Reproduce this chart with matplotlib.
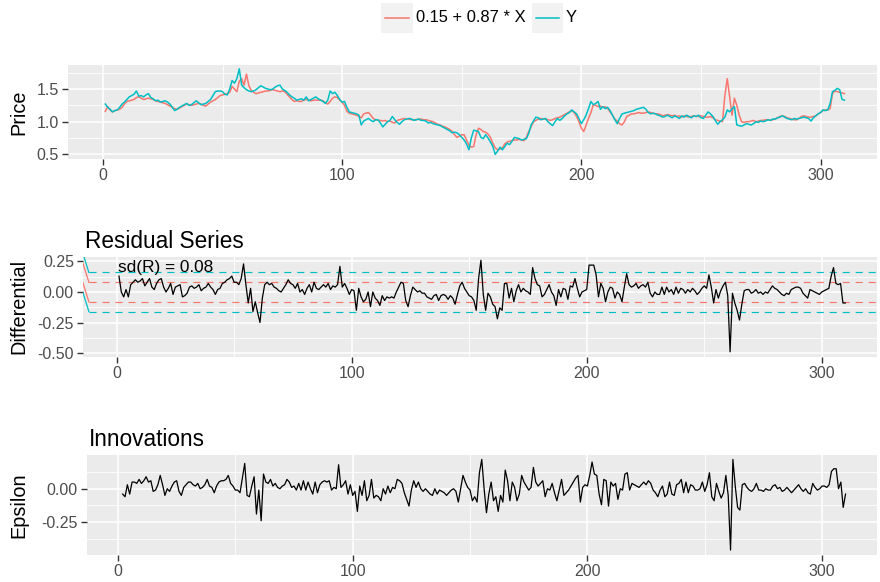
import numpy as np
import matplotlib
matplotlib.use("Agg")
import matplotlib.pyplot as plt
from matplotlib.patches import Rectangle
from matplotlib.lines import Line2D

plt.rcParams['font.family'] = ['Liberation Sans', 'DejaVu Sans']
plt.rcParams['axes.unicode_minus'] = False

# ---------------- data ----------------
price_y = [
    1.27, 1.22, 1.19, 1.15, 1.17, 1.18, 1.22, 1.27, 1.30, 1.34,
    1.38, 1.40, 1.42, 1.47, 1.39, 1.40, 1.38, 1.41, 1.43, 1.37,
    1.35, 1.32, 1.33, 1.30, 1.31, 1.32, 1.30, 1.27, 1.22, 1.17,
    1.19, 1.22, 1.24, 1.26, 1.28, 1.25, 1.26, 1.29, 1.32, 1.29,
    1.26, 1.27, 1.28, 1.31, 1.34, 1.40, 1.46, 1.47, 1.47, 1.46,
    1.42, 1.41, 1.50, 1.63, 1.59, 1.66, 1.81, 1.56, 1.52, 1.49,
    1.47, 1.46, 1.47, 1.49, 1.52, 1.55, 1.53, 1.51, 1.50, 1.49,
    1.50, 1.53, 1.55, 1.56, 1.50, 1.48, 1.45, 1.41, 1.38, 1.36,
    1.33, 1.34, 1.35, 1.33, 1.38, 1.32, 1.34, 1.36, 1.38, 1.35,
    1.33, 1.31, 1.28, 1.33, 1.47, 1.43, 1.45, 1.40, 1.34, 1.30,
    1.31, 1.22, 1.15, 1.14, 1.13, 1.12, 1.10, 0.95, 1.01, 1.03,
    1.05, 1.02, 1.00, 1.03, 1.03, 0.98, 0.92, 0.96, 1.00, 1.02,
    1.08, 1.03, 0.99, 0.96, 1.00, 1.03, 1.04, 1.05, 1.04, 1.02,
    1.03, 1.04, 1.02, 1.02, 1.01, 0.98, 0.99, 0.97, 0.96, 0.95,
    0.94, 0.92, 0.90, 0.88, 0.86, 0.83, 0.84, 0.83, 0.80, 0.76,
    0.72, 0.66, 0.57, 0.75, 0.87, 0.86, 0.85, 0.76, 0.74, 0.80,
    0.75, 0.69, 0.62, 0.50, 0.55, 0.61, 0.57, 0.62, 0.67, 0.65,
    0.70, 0.76, 0.75, 0.74, 0.72, 0.73, 0.74, 0.82, 0.95, 1.01,
    1.07, 1.06, 1.03, 1.04, 1.05, 1.00, 0.97, 0.94, 1.00, 1.05,
    1.02, 1.05, 1.09, 1.12, 1.14, 1.18, 1.15, 1.12, 1.05, 0.97,
    1.03, 1.10, 1.20, 1.31, 1.26, 1.28, 1.31, 1.19, 1.23, 1.20,
    1.22, 1.17, 1.10, 1.03, 0.97, 1.05, 1.12, 1.13, 1.14, 1.15,
    1.16, 1.17, 1.19, 1.20, 1.21, 1.22, 1.19, 1.14, 1.12, 1.13,
    1.12, 1.10, 1.09, 1.07, 1.08, 1.10, 1.08, 1.06, 1.09, 1.07,
    1.05, 1.09, 1.07, 1.10, 1.08, 1.06, 1.09, 1.08, 1.10, 1.06,
    1.05, 1.10, 1.15, 1.12, 1.08, 1.02, 0.96, 1.00, 1.03, 1.07,
    1.18, 1.15, 1.20, 1.23, 0.95, 0.94, 0.93, 0.95, 0.97, 0.96,
    0.95, 0.97, 1.00, 0.99, 1.01, 1.00, 1.01, 1.03, 1.02, 1.04,
    1.04, 1.06, 1.07, 1.09, 1.07, 1.05, 1.04, 1.03, 1.05, 1.04,
    1.05, 1.06, 1.07, 1.06, 1.05, 1.01, 1.06, 1.09, 1.12, 1.14,
    1.18, 1.17, 1.18, 1.28, 1.46, 1.48, 1.51, 1.49, 1.34, 1.33,
]

price_fit = [
    1.16, 1.23, 1.18, 1.15, 1.17, 1.18, 1.19, 1.22, 1.27, 1.31,
    1.32, 1.33, 1.34, 1.37, 1.38, 1.36, 1.34, 1.35, 1.36, 1.35,
    1.34, 1.32, 1.31, 1.30, 1.29, 1.28, 1.26, 1.24, 1.22, 1.20,
    1.19, 1.21, 1.23, 1.25, 1.27, 1.26, 1.25, 1.26, 1.27, 1.28,
    1.27, 1.25, 1.24, 1.27, 1.30, 1.32, 1.34, 1.37, 1.40, 1.41,
    1.42, 1.43, 1.45, 1.54, 1.50, 1.46, 1.62, 1.66, 1.56, 1.73,
    1.55, 1.48, 1.45, 1.43, 1.44, 1.45, 1.46, 1.47, 1.47, 1.48,
    1.49, 1.48, 1.47, 1.46, 1.47, 1.46, 1.42, 1.38, 1.34, 1.31,
    1.32, 1.31, 1.31, 1.33, 1.34, 1.33, 1.32, 1.33, 1.33, 1.33,
    1.33, 1.32, 1.29, 1.27, 1.31, 1.36, 1.38, 1.37, 1.33, 1.30,
    1.25, 1.16, 1.13, 1.12, 1.11, 1.10, 1.08, 1.06, 1.12, 1.13,
    1.14, 1.10, 1.05, 1.03, 1.02, 1.02, 1.01, 1.02, 1.00, 1.01,
    0.99, 0.98, 1.02, 1.03, 1.04, 1.05, 1.04, 1.04, 1.03, 1.03,
    1.03, 1.04, 1.04, 1.03, 1.03, 1.02, 1.01, 1.00, 0.98, 0.96,
    0.95, 0.93, 0.92, 0.90, 0.88, 0.85, 0.80, 0.76, 0.78, 0.80,
    0.80, 0.72, 0.64, 0.61, 0.62, 0.80, 0.90, 0.88, 0.85, 0.84,
    0.81, 0.76, 0.67, 0.60, 0.57, 0.58, 0.60, 0.66, 0.69, 0.70,
    0.71, 0.72, 0.72, 0.73, 0.72, 0.71, 0.76, 0.85, 0.92, 1.00,
    1.02, 1.04, 1.05, 1.04, 1.04, 1.03, 1.02, 1.03, 1.05, 1.06,
    1.07, 1.09, 1.11, 1.13, 1.15, 1.17, 1.14, 1.08, 1.00, 0.90,
    0.85, 0.95, 1.05, 1.14, 1.26, 1.25, 1.23, 1.24, 1.22, 1.23,
    1.20, 1.15, 1.10, 1.04, 1.01, 0.97, 0.95, 1.00, 1.08, 1.10,
    1.12, 1.12, 1.13, 1.14, 1.13, 1.13, 1.14, 1.15, 1.14, 1.13,
    1.12, 1.12, 1.11, 1.09, 1.10, 1.11, 1.10, 1.09, 1.10, 1.08,
    1.09, 1.07, 1.09, 1.08, 1.07, 1.08, 1.09, 1.08, 1.08, 1.09,
    1.08, 1.07, 1.07, 1.08, 1.06, 1.03, 1.02, 1.01, 1.00, 1.40,
    1.66, 1.38, 1.10, 1.36, 1.25, 1.10, 1.00, 0.99, 1.00, 1.00,
    1.01, 1.02, 1.00, 1.01, 1.02, 1.02, 1.03, 1.03, 1.02, 1.03,
    1.04, 1.06, 1.08, 1.09, 1.08, 1.06, 1.05, 1.04, 1.03, 1.03,
    1.05, 1.08, 1.09, 1.08, 1.07, 1.07, 1.08, 1.09, 1.12, 1.14,
    1.17, 1.18, 1.18, 1.20, 1.43, 1.47, 1.46, 1.45, 1.44, 1.43,
]

residual = [
    0.13, 0.00, -0.04, 0.02, -0.04, 0.06, 0.08, 0.10, 0.08, 0.09,
    0.11, 0.05, 0.08, 0.11, 0.04, 0.02, 0.07, 0.10, 0.11, 0.04,
    0.00, 0.03, 0.07, -0.02, 0.04, 0.05, 0.06, -0.04, -0.03, -0.01,
    0.04, 0.05, 0.03, 0.04, 0.06, 0.01, 0.03, 0.04, 0.07, 0.04,
    0.02, -0.02, 0.02, 0.03, 0.07, 0.08, 0.10, 0.11, 0.13, 0.08,
    0.08, 0.06, 0.11, 0.23, 0.06, -0.09, 0.03, -0.16, -0.08, -0.17,
    -0.25, -0.05, 0.06, 0.08, 0.06, 0.07, 0.04, 0.03, 0.01, 0.00,
    0.03, 0.06, 0.10, 0.07, 0.06, 0.03, 0.07, 0.00, 0.02, -0.02,
    0.03, 0.06, 0.00, 0.08, 0.03, 0.02, 0.04, 0.06, 0.04, 0.07,
    0.02, 0.05, 0.04, 0.06, 0.21, 0.04, 0.07, 0.03, -0.02, 0.02,
    0.01, -0.15, 0.03, -0.04, -0.08, -0.06, 0.00, -0.12, 0.00, -0.05,
    -0.07, -0.11, -0.03, -0.07, -0.04, -0.05, -0.04, -0.05, 0.00, 0.04,
    0.08, 0.07, -0.07, -0.12, -0.03, 0.04, 0.02, 0.00, 0.01, -0.01,
    -0.01, -0.04, -0.05, -0.06, -0.03, -0.02, -0.07, -0.03, -0.02, -0.03,
    -0.06, -0.03, -0.05, -0.10, -0.02, 0.05, 0.08, 0.03, 0.00, -0.03,
    -0.04, -0.07, -0.15, 0.11, 0.26, -0.02, -0.15, -0.01, -0.04, -0.10,
    -0.12, -0.22, -0.13, -0.15, 0.07, 0.07, -0.05, 0.03, -0.08, 0.01,
    0.06, 0.00, 0.03, 0.01, 0.00, -0.02, 0.20, 0.11, 0.06, 0.05,
    -0.04, -0.02, 0.02, 0.06, 0.00, -0.03, -0.11, 0.02, -0.04, 0.03,
    0.02, -0.06, 0.05, 0.04, 0.11, 0.03, -0.04, 0.00, 0.01, 0.02,
    0.22, 0.22, 0.22, 0.14, -0.04, 0.07, 0.03, -0.08, 0.00, 0.04,
    0.03, -0.05, 0.00, -0.02, -0.08, 0.04, 0.15, 0.06, 0.04, 0.05,
    0.07, 0.03, 0.05, 0.06, 0.04, 0.08, -0.01, -0.04, 0.00, -0.02,
    -0.02, 0.04, -0.02, 0.04, 0.00, 0.02, -0.02, 0.04, -0.01, 0.03,
    0.02, -0.01, 0.02, 0.00, 0.03, 0.01, -0.02, 0.00, 0.03, 0.05,
    0.03, 0.14, 0.04, -0.09, 0.02, -0.05, 0.01, 0.05, 0.08, -0.03,
    -0.49, -0.01, -0.09, -0.15, -0.23, -0.10, 0.01, 0.02, 0.02, -0.01,
    0.00, 0.02, -0.01, 0.00, -0.02, 0.00, -0.01, 0.02, 0.05, 0.03,
    0.02, 0.00, -0.02, -0.03, -0.01, -0.02, 0.02, 0.03, 0.04, 0.04,
    0.03, -0.01, -0.03, -0.05, 0.02, 0.01, 0.00, -0.01, -0.02, 0.00,
    0.01, 0.02, 0.03, 0.13, 0.20, 0.07, 0.06, 0.07, -0.09, -0.09,
]

innovations = [
    -0.04, -0.06, 0.03, -0.04, 0.05, 0.05, 0.04, 0.07, 0.04,
    0.06, 0.09, 0.05, 0.06, -0.02, -0.01, 0.03, 0.10, 0.03, -0.05,
    0.00, -0.02, 0.02, 0.05, 0.06, -0.02, -0.05, 0.01, 0.03, 0.05,
    0.05, 0.03, 0.02, 0.04, 0.00, 0.01, 0.03, 0.07, 0.02, 0.01,
    -0.03, 0.02, 0.05, 0.06, 0.06, 0.07, 0.10, 0.04, 0.02, -0.01,
    -0.01, -0.03, 0.08, 0.19, -0.05, -0.06, 0.02, 0.09, -0.19, -0.01,
    -0.24, 0.11, 0.05, 0.04, 0.07, 0.02, 0.04, 0.01, 0.00, 0.02,
    0.03, 0.07, 0.05, 0.01, 0.02, -0.01, 0.04, -0.01, 0.06, -0.01,
    0.05, 0.00, -0.04, 0.05, -0.03, 0.03, 0.05, 0.06, 0.05, 0.06,
    -0.01, 0.01, 0.00, 0.18, 0.01, 0.03, 0.06, -0.04, 0.03, -0.05,
    -0.02, -0.17, 0.02, -0.05, 0.06, -0.09, -0.05, 0.07, -0.07, -0.05,
    -0.06, -0.09, 0.00, -0.04, 0.02, -0.03, 0.01, 0.00, 0.07, 0.06,
    0.04, -0.03, -0.08, -0.13, -0.01, 0.06, 0.01, 0.05, 0.00, -0.02,
    0.00, -0.02, -0.04, -0.05, 0.00, -0.04, -0.01, -0.02, -0.03, -0.05,
    -0.03, -0.01, 0.00, -0.02, -0.10, 0.00, 0.10, 0.05, 0.01, -0.01,
    -0.09, -0.06, -0.10, 0.12, 0.22, 0.00, -0.18, -0.04, 0.05, -0.09,
    -0.06, -0.17, -0.05, -0.10, 0.14, 0.06, -0.09, 0.05, 0.01, -0.09,
    -0.04, 0.10, 0.05, 0.02, -0.01, 0.01, 0.16, 0.05, 0.02, 0.04,
    0.06, -0.06, 0.00, -0.01, 0.04, -0.03, -0.09, -0.01, 0.07, -0.05,
    -0.03, -0.01, 0.02, 0.05, 0.08, 0.10, -0.10, 0.01, 0.03, 0.02,
    0.10, 0.20, 0.11, 0.10, -0.04, -0.12, 0.07, 0.06, -0.13, 0.05,
    0.02, 0.04, -0.08, 0.00, -0.01, 0.11, 0.12, -0.01, 0.04, 0.03,
    0.02, 0.01, 0.03, 0.05, 0.03, 0.06, 0.04, -0.01, -0.03, -0.06,
    -0.01, 0.02, -0.06, -0.04, 0.05, -0.04, -0.05, 0.03, 0.04, 0.07,
    -0.03, 0.05, -0.03, 0.03, 0.02, -0.01, -0.01, 0.00, 0.05, -0.02,
    0.03, 0.12, -0.06, -0.09, 0.04, -0.02, -0.07, -0.03, 0.10, -0.05,
    -0.46, 0.22, 0.02, -0.14, -0.16, 0.03, 0.04, 0.01, -0.01, -0.02,
    0.00, 0.04, -0.01, -0.01, -0.02, 0.00, -0.01, -0.01, 0.02, 0.03,
    0.00, 0.01, -0.02, -0.01, 0.01, -0.01, -0.03, -0.01, 0.01, 0.03,
    0.00, -0.02, 0.00, -0.03, -0.04, 0.04, 0.01, -0.01, 0.00, 0.02,
    0.02, 0.01, 0.03, 0.13, 0.15, 0.15, 0.00, 0.05, -0.14, -0.04,
]

sd_R = 0.08
band_start = -11.8
series_names = ["0.15 + 0.87 * X", "Y"]
series_colors = ["#F8766D", "#00BFC4"]
x_ticks = [0, 100, 200, 300]
x_minor = [50, 150, 250]

t_price = np.arange(1, len(price_y) + 1)
t_fit = np.arange(1, len(price_fit) + 1)
t_res = np.arange(1, len(residual) + 1)
t_inn = np.arange(2, 2 + len(innovations))

# ---------------- figure ----------------
W, H = 880, 582
fig = plt.figure(figsize=(W / 100, H / 100), dpi=100)


def rect(l, t, r, b):
    return [l / W, 1 - b / H, (r - l) / W, (b - t) / H]


def style(ax, xlim, ylim, yt, ylab, yminor):
    ax.set_facecolor('#EBEBEB')
    for s in ax.spines.values():
        s.set_visible(False)
    ax.set_xlim(*xlim)
    ax.set_ylim(*ylim)
    ax.set_xticks(x_ticks)
    ax.set_xticklabels([str(v) for v in x_ticks])
    ax.set_xticks(x_minor, minor=True)
    ax.set_yticks(yt)
    ax.set_yticklabels(ylab)
    ax.set_yticks(yminor, minor=True)
    ax.grid(which='major', color='white', lw=1.15)
    ax.grid(which='minor', color='white', lw=0.6)
    ax.set_axisbelow(True)
    ax.tick_params(which='major', length=4, width=1.0, color='#333333',
                   labelcolor='#4D4D4D', labelsize=11.5, pad=2.5)
    ax.tick_params(which='minor', length=0)


# Panel 1: prices
ax1 = fig.add_axes(rect(68, 65, 877, 159))
style(ax1, (-14.6, 323.6), (0.429, 1.868), [0.5, 1.0, 1.5], ["0.5", "1.0", "1.5"], [0.75, 1.25, 1.75])
ax1.plot(t_fit, price_fit, color=series_colors[0], lw=1.1)
ax1.plot(t_price, price_y, color=series_colors[1], lw=1.1)

# Panel 2: residuals
ax2 = fig.add_axes(rect(83, 256.7, 877, 356.7))
style(ax2, (-14.3, 323.5), (-0.530, 0.289), [-0.5, -0.25, 0.0, 0.25],
      ["-0.50", "-0.25", "0.00", "0.25"], [-0.375, -0.125, 0.125])
for lev, col in [(sd_R, series_colors[0]), (-sd_R, series_colors[0]),
                 (2 * sd_R, series_colors[1]), (-2 * sd_R, series_colors[1])]:
    ax2.plot([band_start, 330], [lev, lev], color=col, lw=0.85, ls=(0, (6, 5)))
    ax2.plot([-14.4, band_start], [lev + 2 * sd_R, lev], color=col, lw=0.9)
ax2.plot(t_res, residual, color='black', lw=0.9)
ax2.text(21, 0.2, "sd(R) = 0.08", ha='center', va='center', fontsize=12.4, color='black')

# Panel 3: innovations
ax3 = fig.add_axes(rect(87, 455, 877, 555))
style(ax3, (-13.2, 323.4), (-0.497, 0.253), [-0.25, 0.0], ["-0.25", "0.00"],
      [-0.375, -0.125, 0.125])
ax3.plot(t_inn, innovations, color='black', lw=0.9)

# Titles and axis labels
fig.text(85 / W, 1 - 248 / H, "Residual Series", fontsize=16.3, ha='left', va='baseline')
fig.text(89 / W, 1 - 446 / H, "Innovations", fontsize=16.3, ha='left', va='baseline')
fig.text(19 / W, 1 - 112 / H, "Price", fontsize=14.3, rotation=90, ha='center', va='center')
fig.text(19 / W, 1 - 306 / H, "Differential", fontsize=14.3, rotation=90, ha='center', va='center')
fig.text(19 / W, 1 - 505 / H, "Epsilon", fontsize=14.3, rotation=90, ha='center', va='center')

# Legend (top)
key_boxes = [(381, 413), (532, 563)]
text_x = [416, 566]
for (kl, kr), tx, name, col in zip(key_boxes, text_x, series_names, series_colors):
    fig.add_artist(Rectangle((kl / W, 1 - 33 / H), (kr - kl) / W, 30 / H,
                             transform=fig.transFigure, facecolor='#F2F2F2', edgecolor='none'))
    fig.add_artist(Line2D([(kl + 4) / W, (kr - 4) / W], [1 - 18 / H, 1 - 18 / H],
                          transform=fig.transFigure, color=col, lw=1.1))
    fig.text(tx / W, 1 - 18 / H, name, fontsize=11.9, ha='left', va='center')

fig.savefig("out.png", dpi=100)
